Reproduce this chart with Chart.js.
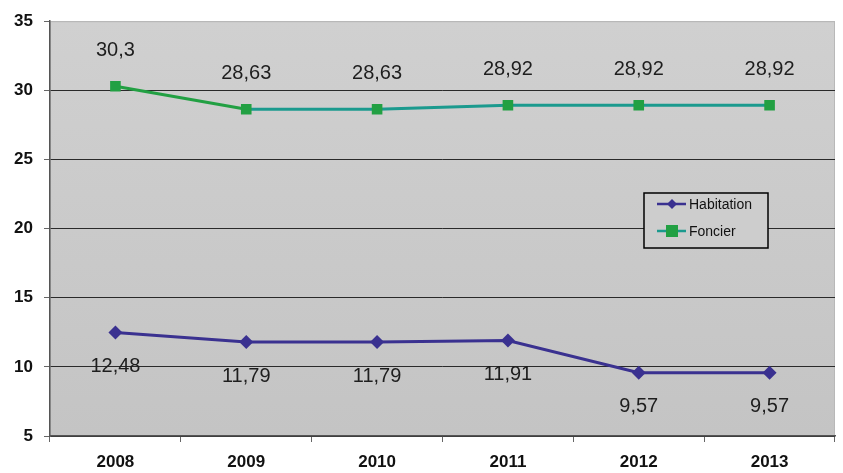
<!DOCTYPE html>
<html>
<head>
<meta charset="utf-8">
<script src="https://cdn.jsdelivr.net/npm/chart.js@4"></script>
<style>
  html, body { margin: 0; padding: 0; background: #fff; }
  #wrap { width: 843px; height: 473px; }
</style>
</head>
<body>
<div id="wrap"><canvas id="taxChart" width="843" height="473"></canvas></div>
<script>
const years = ['2008', '2009', '2010', '2011', '2012', '2013'];
const habitation = [12.48, 11.79, 11.79, 11.91, 9.57, 9.57];
const foncier = [30.3, 28.63, 28.63, 28.92, 28.92, 28.92];
const habitationLabels = ['12,48', '11,79', '11,79', '11,91', '9,57', '9,57'];
const foncierLabels = ['30,3', '28,63', '28,63', '28,92', '28,92', '28,92'];

const blue = '#3a3190';
const green = '#22a043';
const teal = '#1b9a8e';
const font = 'Arial, "Liberation Sans", sans-serif';

// grey plot area, drawn before the datasets
const plotBg = {
    id: 'plotBg',
    beforeDraw(chart) {
        const { ctx, chartArea: a } = chart;
        const g = ctx.createLinearGradient(0, a.top, 0, a.bottom);
        g.addColorStop(0, '#d0d0d0');
        g.addColorStop(1, '#c4c4c4');
        ctx.save();
        ctx.fillStyle = g;
        ctx.fillRect(a.left, a.top, a.right - a.left, a.bottom - a.top);
        ctx.strokeStyle = '#b8b8b8';
        ctx.lineWidth = 1;
        ctx.strokeRect(a.left + 0.5, a.top + 0.5, a.right - a.left - 1, a.bottom - a.top);
        ctx.restore();
    }
};

// value labels, legend box
const extras = {
    id: 'extras',
    afterDatasetsDraw(chart) {
        const ctx = chart.ctx;
        ctx.save();
        ctx.font = '20px ' + font;
        ctx.fillStyle = '#1e1e1e';
        ctx.textAlign = 'center';
        ctx.textBaseline = 'middle';
        chart.getDatasetMeta(0).data.forEach((p, i) => {
            ctx.fillText(habitationLabels[i], p.x, p.y + 34);
        });
        chart.getDatasetMeta(1).data.forEach((p, i) => {
            ctx.fillText(foncierLabels[i], p.x, p.y - 36);
        });

        // legend
        const lx = 644, ly = 193, lw = 124, lh = 55;
        ctx.fillStyle = '#cdcdcd';
        ctx.fillRect(lx, ly, lw, lh);
        ctx.strokeStyle = '#000';
        ctx.lineWidth = 1.5;
        ctx.strokeRect(lx, ly, lw, lh);
        const items = [
            { text: 'Habitation', color: blue, y: ly + 11, marker: 'diamond' },
            { text: 'Foncier', color: teal, mcolor: green, y: ly + 38, marker: 'square' }
        ];
        items.forEach(it => {
            ctx.strokeStyle = it.color;
            ctx.lineWidth = 2.5;
            ctx.beginPath();
            ctx.moveTo(lx + 13, it.y);
            ctx.lineTo(lx + 42, it.y);
            ctx.stroke();
            ctx.fillStyle = it.mcolor || it.color;
            if (it.marker === 'diamond') {
                ctx.beginPath();
                ctx.moveTo(lx + 28, it.y - 5);
                ctx.lineTo(lx + 33, it.y);
                ctx.lineTo(lx + 28, it.y + 5);
                ctx.lineTo(lx + 23, it.y);
                ctx.closePath();
                ctx.fill();
            } else {
                ctx.fillRect(lx + 22, it.y - 6, 12, 12);
            }
            ctx.fillStyle = '#111';
            ctx.font = '14px ' + font;
            ctx.textAlign = 'left';
            ctx.fillText(it.text, lx + 45, it.y + 1);
        });
        ctx.restore();
    }
};

new Chart(document.getElementById('taxChart'), {
    type: 'line',
    data: {
        labels: years,
        datasets: [
            {
                label: 'Habitation',
                data: habitation,
                borderColor: blue,
                backgroundColor: blue,
                borderWidth: 3,
                pointStyle: 'rectRot',
                pointRadius: 7,
                pointBorderWidth: 0,
                tension: 0
            },
            {
                label: 'Foncier',
                data: foncier,
                borderColor: teal,
                backgroundColor: green,
                borderWidth: 3,
                pointStyle: 'rect',
                pointRadius: 7.5,
                pointBorderWidth: 0,
                segment: {
                    borderColor: c => c.p0DataIndex === 0 ? green : teal
                },
                tension: 0
            }
        ]
    },
    options: {
        responsive: false,
        animation: false,
        layout: { padding: { top: 20, right: 8, left: 0, bottom: 0 } },
        plugins: {
            legend: { display: false },
            tooltip: { enabled: false }
        },
        scales: {
            x: {
                offset: true,
                afterFit: s => { s.height = 37; },
                grid: {
                    offset: true,
                    drawOnChartArea: false,
                    drawTicks: true,
                    tickLength: 6,
                    color: '#666'
                },
                border: { color: '#555', width: 1.5 },
                ticks: {
                    padding: 10,
                    color: '#111',
                    font: { family: font, size: 17, weight: 'bold' }
                }
            },
            y: {
                min: 5,
                max: 35,
                afterFit: s => { s.width = 50; },
                grid: {
                    color: c => (c.tick.value === 35 ? '#b8b8b8' : '#2a2a2a'),
                    tickColor: '#666',
                    tickLength: 6,
                    lineWidth: 1
                },
                border: { color: '#555', width: 1.5 },
                ticks: {
                    stepSize: 5,
                    padding: 11,
                    color: '#111',
                    font: { family: font, size: 17, weight: 'bold' }
                }
            }
        }
    },
    plugins: [plotBg, extras]
});
</script>
</body>
</html>
